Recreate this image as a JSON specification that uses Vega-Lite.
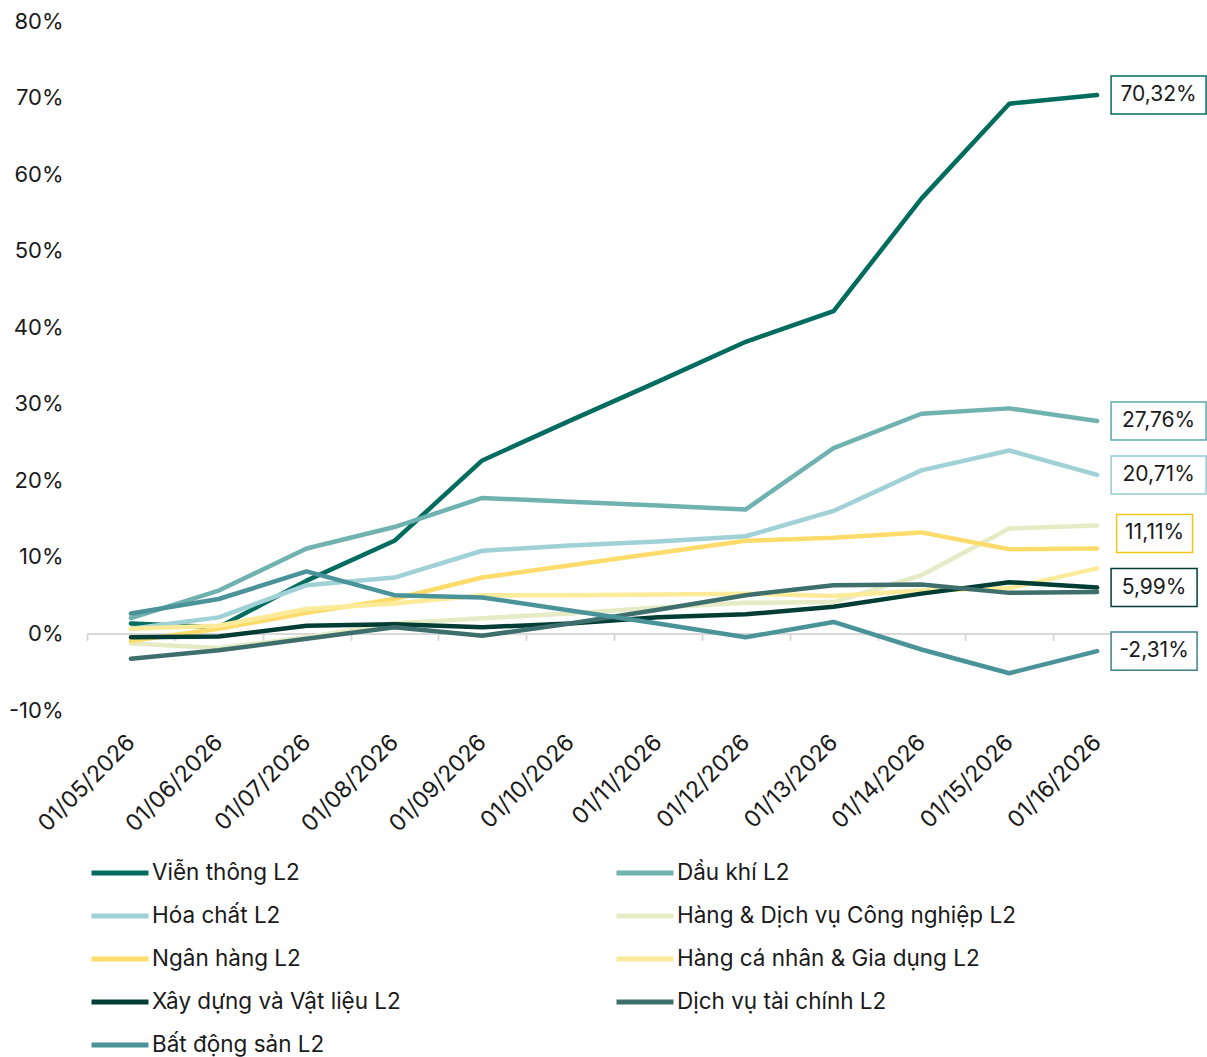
{
  "$schema": "https://vega.github.io/schema/vega-lite/v6.json",
  "width": 1054,
  "height": 689,
  "autosize": {"type": "none"},
  "padding": {"left": 87, "top": 21, "right": 66, "bottom": 347},
  "background": "white",
  "config": {
    "view": {"stroke": null},
    "font": "Inter",
    "text": {"font": "Inter"}
  },
  "datasets": {
    "series": [
      {"date": "01/05/2026", "series": "Viễn thông L2", "value": 1.3},
      {"date": "01/06/2026", "series": "Viễn thông L2", "value": 0.8},
      {"date": "01/07/2026", "series": "Viễn thông L2", "value": 6.9},
      {"date": "01/08/2026", "series": "Viễn thông L2", "value": 12.1},
      {"date": "01/09/2026", "series": "Viễn thông L2", "value": 22.6},
      {"date": "01/10/2026", "series": "Viễn thông L2", "value": 27.8},
      {"date": "01/11/2026", "series": "Viễn thông L2", "value": 32.9},
      {"date": "01/12/2026", "series": "Viễn thông L2", "value": 38.1},
      {"date": "01/13/2026", "series": "Viễn thông L2", "value": 42.1},
      {"date": "01/14/2026", "series": "Viễn thông L2", "value": 56.8},
      {"date": "01/15/2026", "series": "Viễn thông L2", "value": 69.2},
      {"date": "01/16/2026", "series": "Viễn thông L2", "value": 70.32},
      {"date": "01/05/2026", "series": "Dầu khí L2", "value": 2.0},
      {"date": "01/06/2026", "series": "Dầu khí L2", "value": 5.6},
      {"date": "01/07/2026", "series": "Dầu khí L2", "value": 11.1},
      {"date": "01/08/2026", "series": "Dầu khí L2", "value": 13.9},
      {"date": "01/09/2026", "series": "Dầu khí L2", "value": 17.7},
      {"date": "01/10/2026", "series": "Dầu khí L2", "value": 17.2},
      {"date": "01/11/2026", "series": "Dầu khí L2", "value": 16.7},
      {"date": "01/12/2026", "series": "Dầu khí L2", "value": 16.2},
      {"date": "01/13/2026", "series": "Dầu khí L2", "value": 24.2},
      {"date": "01/14/2026", "series": "Dầu khí L2", "value": 28.7},
      {"date": "01/15/2026", "series": "Dầu khí L2", "value": 29.4},
      {"date": "01/16/2026", "series": "Dầu khí L2", "value": 27.76},
      {"date": "01/05/2026", "series": "Hóa chất L2", "value": 0.6},
      {"date": "01/06/2026", "series": "Hóa chất L2", "value": 2.1},
      {"date": "01/07/2026", "series": "Hóa chất L2", "value": 6.3},
      {"date": "01/08/2026", "series": "Hóa chất L2", "value": 7.3},
      {"date": "01/09/2026", "series": "Hóa chất L2", "value": 10.8},
      {"date": "01/10/2026", "series": "Hóa chất L2", "value": 11.5},
      {"date": "01/11/2026", "series": "Hóa chất L2", "value": 12.0},
      {"date": "01/12/2026", "series": "Hóa chất L2", "value": 12.7},
      {"date": "01/13/2026", "series": "Hóa chất L2", "value": 16.0},
      {"date": "01/14/2026", "series": "Hóa chất L2", "value": 21.3},
      {"date": "01/15/2026", "series": "Hóa chất L2", "value": 23.9},
      {"date": "01/16/2026", "series": "Hóa chất L2", "value": 20.71},
      {"date": "01/05/2026", "series": "Hàng & Dịch vụ Công nghiệp L2", "value": -1.3},
      {"date": "01/06/2026", "series": "Hàng & Dịch vụ Công nghiệp L2", "value": -1.9},
      {"date": "01/07/2026", "series": "Hàng & Dịch vụ Công nghiệp L2", "value": -0.5},
      {"date": "01/08/2026", "series": "Hàng & Dịch vụ Công nghiệp L2", "value": 1.3},
      {"date": "01/09/2026", "series": "Hàng & Dịch vụ Công nghiệp L2", "value": 2.0},
      {"date": "01/10/2026", "series": "Hàng & Dịch vụ Công nghiệp L2", "value": 2.6},
      {"date": "01/11/2026", "series": "Hàng & Dịch vụ Công nghiệp L2", "value": 3.4},
      {"date": "01/12/2026", "series": "Hàng & Dịch vụ Công nghiệp L2", "value": 4.0},
      {"date": "01/13/2026", "series": "Hàng & Dịch vụ Công nghiệp L2", "value": 4.1},
      {"date": "01/14/2026", "series": "Hàng & Dịch vụ Công nghiệp L2", "value": 7.6},
      {"date": "01/15/2026", "series": "Hàng & Dịch vụ Công nghiệp L2", "value": 13.7},
      {"date": "01/16/2026", "series": "Hàng & Dịch vụ Công nghiệp L2", "value": 14.1},
      {"date": "01/05/2026", "series": "Ngân hàng L2", "value": -1.0},
      {"date": "01/06/2026", "series": "Ngân hàng L2", "value": 0.6},
      {"date": "01/07/2026", "series": "Ngân hàng L2", "value": 2.7},
      {"date": "01/08/2026", "series": "Ngân hàng L2", "value": 4.5},
      {"date": "01/09/2026", "series": "Ngân hàng L2", "value": 7.3},
      {"date": "01/10/2026", "series": "Ngân hàng L2", "value": 8.9},
      {"date": "01/11/2026", "series": "Ngân hàng L2", "value": 10.5},
      {"date": "01/12/2026", "series": "Ngân hàng L2", "value": 12.1},
      {"date": "01/13/2026", "series": "Ngân hàng L2", "value": 12.5},
      {"date": "01/14/2026", "series": "Ngân hàng L2", "value": 13.2},
      {"date": "01/15/2026", "series": "Ngân hàng L2", "value": 11.0},
      {"date": "01/16/2026", "series": "Ngân hàng L2", "value": 11.11},
      {"date": "01/05/2026", "series": "Hàng cá nhân & Gia dụng L2", "value": 0.6},
      {"date": "01/06/2026", "series": "Hàng cá nhân & Gia dụng L2", "value": 1.0},
      {"date": "01/07/2026", "series": "Hàng cá nhân & Gia dụng L2", "value": 3.2},
      {"date": "01/08/2026", "series": "Hàng cá nhân & Gia dụng L2", "value": 3.9},
      {"date": "01/09/2026", "series": "Hàng cá nhân & Gia dụng L2", "value": 5.0},
      {"date": "01/10/2026", "series": "Hàng cá nhân & Gia dụng L2", "value": 5.0},
      {"date": "01/11/2026", "series": "Hàng cá nhân & Gia dụng L2", "value": 5.1},
      {"date": "01/12/2026", "series": "Hàng cá nhân & Gia dụng L2", "value": 5.2},
      {"date": "01/13/2026", "series": "Hàng cá nhân & Gia dụng L2", "value": 4.9},
      {"date": "01/14/2026", "series": "Hàng cá nhân & Gia dụng L2", "value": 5.6},
      {"date": "01/15/2026", "series": "Hàng cá nhân & Gia dụng L2", "value": 5.9},
      {"date": "01/16/2026", "series": "Hàng cá nhân & Gia dụng L2", "value": 8.5},
      {"date": "01/05/2026", "series": "Xây dựng và Vật liệu L2", "value": -0.5},
      {"date": "01/06/2026", "series": "Xây dựng và Vật liệu L2", "value": -0.4},
      {"date": "01/07/2026", "series": "Xây dựng và Vật liệu L2", "value": 1.0},
      {"date": "01/08/2026", "series": "Xây dựng và Vật liệu L2", "value": 1.2},
      {"date": "01/09/2026", "series": "Xây dựng và Vật liệu L2", "value": 0.8},
      {"date": "01/10/2026", "series": "Xây dựng và Vật liệu L2", "value": 1.3},
      {"date": "01/11/2026", "series": "Xây dựng và Vật liệu L2", "value": 2.1},
      {"date": "01/12/2026", "series": "Xây dựng và Vật liệu L2", "value": 2.5},
      {"date": "01/13/2026", "series": "Xây dựng và Vật liệu L2", "value": 3.5},
      {"date": "01/14/2026", "series": "Xây dựng và Vật liệu L2", "value": 5.2},
      {"date": "01/15/2026", "series": "Xây dựng và Vật liệu L2", "value": 6.7},
      {"date": "01/16/2026", "series": "Xây dựng và Vật liệu L2", "value": 5.99},
      {"date": "01/05/2026", "series": "Dịch vụ tài chính L2", "value": -3.3},
      {"date": "01/06/2026", "series": "Dịch vụ tài chính L2", "value": -2.2},
      {"date": "01/07/2026", "series": "Dịch vụ tài chính L2", "value": -0.7},
      {"date": "01/08/2026", "series": "Dịch vụ tài chính L2", "value": 0.8},
      {"date": "01/09/2026", "series": "Dịch vụ tài chính L2", "value": -0.3},
      {"date": "01/10/2026", "series": "Dịch vụ tài chính L2", "value": 1.3},
      {"date": "01/11/2026", "series": "Dịch vụ tài chính L2", "value": 3.1},
      {"date": "01/12/2026", "series": "Dịch vụ tài chính L2", "value": 5.0},
      {"date": "01/13/2026", "series": "Dịch vụ tài chính L2", "value": 6.3},
      {"date": "01/14/2026", "series": "Dịch vụ tài chính L2", "value": 6.4},
      {"date": "01/15/2026", "series": "Dịch vụ tài chính L2", "value": 5.3},
      {"date": "01/16/2026", "series": "Dịch vụ tài chính L2", "value": 5.4},
      {"date": "01/05/2026", "series": "Bất động sản L2", "value": 2.6},
      {"date": "01/06/2026", "series": "Bất động sản L2", "value": 4.5},
      {"date": "01/07/2026", "series": "Bất động sản L2", "value": 8.1},
      {"date": "01/08/2026", "series": "Bất động sản L2", "value": 5.0},
      {"date": "01/09/2026", "series": "Bất động sản L2", "value": 4.7},
      {"date": "01/10/2026", "series": "Bất động sản L2", "value": 3.0},
      {"date": "01/11/2026", "series": "Bất động sản L2", "value": 1.3},
      {"date": "01/12/2026", "series": "Bất động sản L2", "value": -0.5},
      {"date": "01/13/2026", "series": "Bất động sản L2", "value": 1.5},
      {"date": "01/14/2026", "series": "Bất động sản L2", "value": -2.1},
      {"date": "01/15/2026", "series": "Bất động sản L2", "value": -5.2},
      {"date": "01/16/2026", "series": "Bất động sản L2", "value": -2.31}
    ],
    "labels": [
      {"date": "01/16/2026", "series": "Viễn thông L2", "value": 70.32, "label": "70,32%"},
      {"date": "01/16/2026", "series": "Dầu khí L2", "value": 27.76, "label": "27,76%"},
      {"date": "01/16/2026", "series": "Hóa chất L2", "value": 20.71, "label": "20,71%"},
      {"date": "01/16/2026", "series": "Ngân hàng L2", "value": 11.11, "label": "11,11%"},
      {"date": "01/16/2026", "series": "Xây dựng và Vật liệu L2", "value": 5.99, "label": "5,99%"},
      {"date": "01/16/2026", "series": "Bất động sản L2", "value": -2.31, "label": "-2,31%"}
    ]
  },
  "layer": [
    {
      "data": {"name": "series"},
      "mark": {"type": "line", "strokeWidth": 4.5, "strokeCap": "round", "strokeJoin": "round"},
      "encoding": {
        "x": {
          "field": "date", "type": "ordinal", "bandPosition": 0.5,
          "scale": {"type": "band", "paddingInner": 0, "paddingOuter": 0},
          "axis": {
            "title": null, "tickBand": "extent", "offset": -76.6,
            "labelAngle": -45, "labelAlign": "right", "labelBaseline": "middle",
            "labelPadding": 98, "tickSize": 7,
            "domainColor": "#d9d9d9", "tickColor": "#d9d9d9", "domainWidth": 2, "tickWidth": 2,
            "labelFontSize": 23, "labelColor": "#1a1a1a", "labelFont": "Inter", "grid": false
          }
        },
        "y": {
          "field": "value", "type": "quantitative",
          "scale": {"domain": [-10, 80], "nice": false, "zero": false},
          "axis": {
            "title": null, "domain": false, "ticks": false, "tickSize": 0, "grid": false,
            "values": [-10, 0, 10, 20, 30, 40, 50, 60, 70, 80],
            "labelExpr": "datum.value + '%'", "labelFontSize": 22, "labelPadding": 24,
            "labelColor": "#1a1a1a", "labelFont": "Inter"
          }
        },
        "color": {
          "field": "series", "type": "nominal",
          "scale": {
            "domain": ["Viễn thông L2", "Dầu khí L2", "Hóa chất L2", "Hàng & Dịch vụ Công nghiệp L2", "Ngân hàng L2", "Hàng cá nhân & Gia dụng L2", "Xây dựng và Vật liệu L2", "Dịch vụ tài chính L2", "Bất động sản L2"],
            "range": ["#006C5E", "#70B2B0", "#A0D1D6", "#E5EBC5", "#FDDC6C", "#FDEB99", "#013D35", "#3E6F6D", "#4A9399"]
          },
          "legend": {
            "title": null, "orient": "none", "direction": "horizontal", "legendX": 2, "legendY": 840, "columns": 2,
            "symbolType": "stroke", "symbolSize": 3249, "symbolStrokeWidth": 5,
            "labelFontSize": 22.5, "labelFont": "Inter", "labelColor": "#1a1a1a", "labelOffset": 1,
            "rowPadding": 19, "columnPadding": 213, "padding": 0, "labelLimit": 0, "clipHeight": 24
          }
        }
      }
    },
    {
      "data": {"name": "labels"},
      "transform": [{"filter": "indexof(['Viễn thông L2','Dầu khí L2','Hóa chất L2'], datum.series) >= 0"}],
      "mark": {"type": "point", "shape": "M-1,-0.4H1V0.4H-1Z", "size": 9025, "filled": true, "fill": "white", "strokeWidth": 1.5, "xOffset": 61.5, "opacity": 1},
      "encoding": {
        "x": {"field": "date", "type": "ordinal", "bandPosition": 0.5},
        "y": {"field": "value", "type": "quantitative"},
        "stroke": {"field": "series", "type": "nominal", "legend": null,
          "scale": {"domain": ["Viễn thông L2", "Dầu khí L2", "Hóa chất L2", "Ngân hàng L2", "Xây dựng và Vật liệu L2", "Bất động sản L2"],
                    "range": ["#006C5E", "#5EA9AC", "#95CBD1", "#F5C518", "#013D35", "#3F8085"]}}
      }
    },
    {
      "data": {"name": "labels"},
      "transform": [{"filter": "indexof(['Xây dựng và Vật liệu L2','Bất động sản L2'], datum.series) >= 0"}],
      "mark": {"type": "point", "shape": "M-1,-0.442H1V0.442H-1Z", "size": 7396, "filled": true, "fill": "white", "strokeWidth": 1.5, "xOffset": 57, "opacity": 1},
      "encoding": {
        "x": {"field": "date", "type": "ordinal", "bandPosition": 0.5},
        "y": {"field": "value", "type": "quantitative"},
        "stroke": {"field": "series", "type": "nominal", "legend": null}
      }
    },
    {
      "data": {"name": "labels"},
      "transform": [{"filter": "datum.series == 'Ngân hàng L2'"}],
      "mark": {"type": "point", "shape": "M-1,-0.5H1V0.5H-1Z", "size": 5776, "filled": true, "fill": "white", "strokeWidth": 1.5, "xOffset": 57.5, "yOffset": -15, "opacity": 1},
      "encoding": {
        "x": {"field": "date", "type": "ordinal", "bandPosition": 0.5},
        "y": {"field": "value", "type": "quantitative"},
        "stroke": {"field": "series", "type": "nominal", "legend": null}
      }
    },
    {
      "data": {"name": "labels"},
      "transform": [{"filter": "indexof(['Viễn thông L2','Dầu khí L2','Hóa chất L2'], datum.series) >= 0"}],
      "mark": {"type": "text", "fontSize": 21, "font": "Inter", "color": "#1a1a1a", "align": "center", "baseline": "middle", "xOffset": 61.5},
      "encoding": {
        "x": {"field": "date", "type": "ordinal", "bandPosition": 0.5},
        "y": {"field": "value", "type": "quantitative"},
        "text": {"field": "label"}
      }
    },
    {
      "data": {"name": "labels"},
      "transform": [{"filter": "indexof(['Xây dựng và Vật liệu L2','Bất động sản L2'], datum.series) >= 0"}],
      "mark": {"type": "text", "fontSize": 21, "font": "Inter", "color": "#1a1a1a", "align": "center", "baseline": "middle", "xOffset": 57},
      "encoding": {
        "x": {"field": "date", "type": "ordinal", "bandPosition": 0.5},
        "y": {"field": "value", "type": "quantitative"},
        "text": {"field": "label"}
      }
    },
    {
      "data": {"name": "labels"},
      "transform": [{"filter": "datum.series == 'Ngân hàng L2'"}],
      "mark": {"type": "text", "fontSize": 21, "font": "Inter", "color": "#1a1a1a", "align": "center", "baseline": "middle", "xOffset": 57.5, "yOffset": -15},
      "encoding": {
        "x": {"field": "date", "type": "ordinal", "bandPosition": 0.5},
        "y": {"field": "value", "type": "quantitative"},
        "text": {"field": "label"}
      }
    }
  ]
}
